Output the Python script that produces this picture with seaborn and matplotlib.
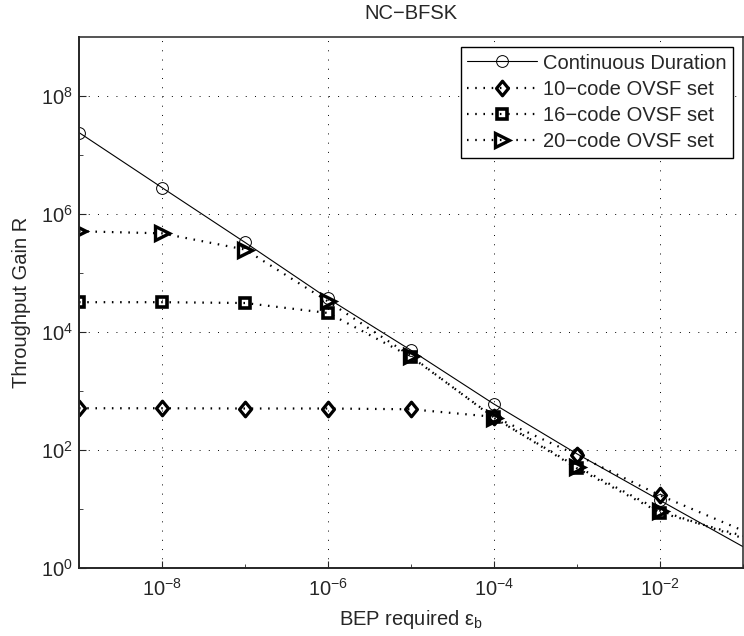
import numpy as np
import pandas as pd
import matplotlib
matplotlib.use("Agg")
import matplotlib.pyplot as plt
from matplotlib.path import Path
import seaborn as sns

# ---- data ----
bep = [1e-9, 1e-8, 1e-7, 1e-6, 1e-5, 1e-4, 1e-3, 1e-2, 1e-1]
continuous = [2.4e7, 2.8e6, 3.3e5, 3.7e4, 4.9e3, 600, 86, 14, 2.3]
code10 = [510, 510, 505, 505, 490, 365, 82, 17, 4.3]
code16 = [3.2e4, 3.2e4, 3.1e4, 2.1e4, 3.8e3, 357, 49, 8.7, 3.5]
code20 = [5.1e5, 4.7e5, 2.5e5, 3.3e4, 3.9e3, 350, 52, 9.4, 3.2]

labels = ["Continuous Duration", "10\u2212code OVSF set",
          "16\u2212code OVSF set", "20\u2212code OVSF set"]
xticks = [1e-8, 1e-6, 1e-4, 1e-2]
yticks = [1e0, 1e2, 1e4, 1e6, 1e8]

df = pd.DataFrame({
    "bep": bep * 4,
    "gain": continuous + code10 + code16 + code20,
    "series": sum([[l] * len(bep) for l in labels], []),
})

sns.set_style("ticks")
plt.rcParams["font.family"] = ["Liberation Sans", "DejaVu Sans"]
plt.rcParams["mathtext.default"] = "regular"
plt.rcParams["axes.unicode_minus"] = True

FS = 14.5

fig = plt.figure(figsize=(7.44, 6.36), dpi=100)
ax = fig.add_axes([79 / 744, 1 - 568 / 636, (743 - 79) / 744, (568 - 37) / 636])

# MATLAB-like diamond: a bit taller than wide
diamond = Path([(-0.41, 0), (0, 0.5), (0.41, 0), (0, -0.5), (-0.41, 0)],
               [Path.MOVETO, Path.LINETO, Path.LINETO, Path.LINETO, Path.CLOSEPOLY])

dots = (0, (0.7, 3.0))
styles = {
    labels[0]: dict(marker="o", ls="-", lw=0.8, ms=8.5, mew=0.7),
    labels[1]: dict(marker=diamond, ls=dots, lw=1.6, ms=10.5, mew=2.3),
    labels[2]: dict(marker="s", ls=dots, lw=1.6, ms=6.5, mew=2.6),
    labels[3]: dict(marker=">", ls=dots, lw=1.6, ms=10, mew=2.4),
}

mark_idx = list(range(len(bep) - 1))  # last point lies just outside the view
for lab in labels:
    sub = df[df["series"] == lab]
    st = styles[lab]
    sns.lineplot(data=sub, x="bep", y="gain", ax=ax, label=lab,
                 color="black", marker=st["marker"], linestyle=st["ls"],
                 linewidth=st["lw"], markersize=st["ms"], markeredgewidth=st["mew"],
                 markerfacecolor="none", markeredgecolor="black",
                 markevery=mark_idx, estimator=None, sort=False)

ax.set_xscale("log")
ax.set_yscale("log")
ax.set_xlim(1e-9, 10 ** (-2 + 75 / 84))
ax.set_ylim(1e0, 1e9)

ax.set_xticks(xticks)
ax.set_yticks(yticks)
ax.set_xticks([1e-9, 1e-7, 1e-5, 1e-3, 1e-1], minor=True)
ax.set_yticks([1e1, 1e3, 1e5, 1e7], minor=True)
ax.set_xticklabels(["$10^{\u22128}$", "$10^{\u22126}$", "$10^{\u22124}$", "$10^{\u22122}$"])
ax.set_yticklabels(["$10^{0}$", "$10^{2}$", "$10^{4}$", "$10^{6}$", "$10^{8}$"])
ax.set_xticklabels([], minor=True)
ax.set_yticklabels([], minor=True)

ax.tick_params(which="major", direction="in", length=5, width=0.8,
               labelsize=FS, top=False, right=False)
ax.tick_params(axis="x", which="major", pad=7)
ax.tick_params(axis="y", which="major", pad=4.5)
ax.tick_params(which="minor", direction="in", length=3, width=0.6)
ax.grid(True, which="major", color="black", linestyle=(0, (1, 8.5)), linewidth=0.7)

for s in ["left", "bottom"]:
    ax.spines[s].set_linewidth(1.4)
for s in ["top", "right"]:
    ax.spines[s].set_linewidth(1.1)

ax.set_xlabel("BEP required ε$_b$", fontsize=FS, labelpad=6)
ax.set_ylabel("Throughput Gain R", fontsize=FS, labelpad=7)
ax.set_title("NC\u2212BFSK", fontsize=FS, pad=13)

leg = ax.legend(loc="upper right", fontsize=FS, frameon=True, fancybox=False,
                edgecolor="black", framealpha=1, handlelength=3.45,
                borderaxespad=0.5, labelspacing=0.36, handletextpad=0.3,
                borderpad=0.32)
leg.get_frame().set_linewidth(1.0)

fig.savefig("out.png", dpi=100)
